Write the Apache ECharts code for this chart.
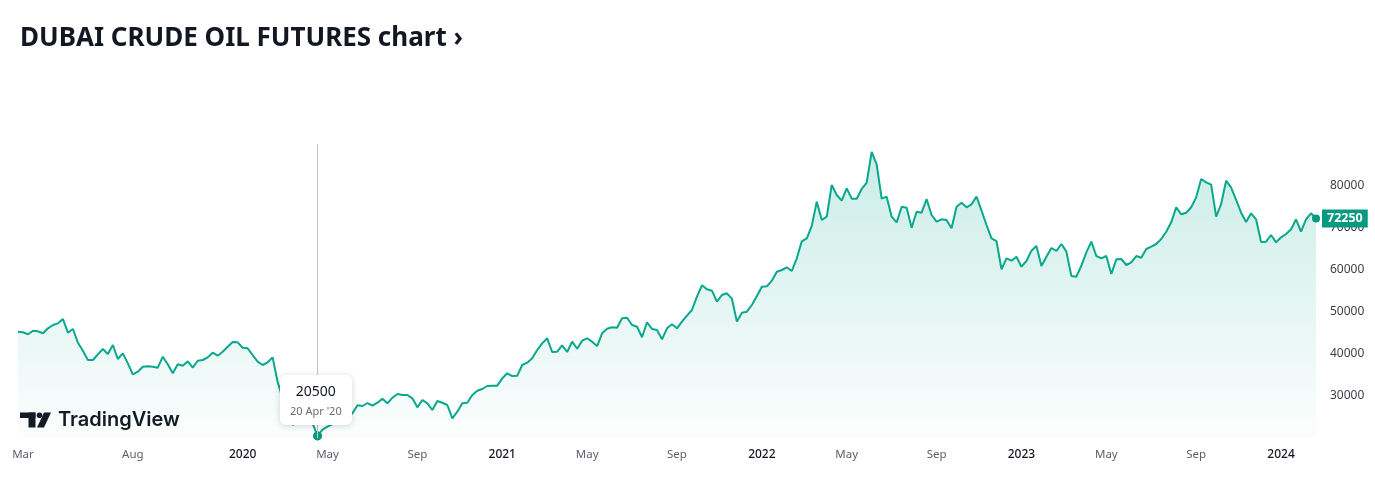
<!DOCTYPE html>
<html><head><meta charset="utf-8">
<script src="https://cdn.jsdelivr.net/npm/echarts@6/dist/echarts.min.js"></script>
<style>html,body{margin:0;padding:0;background:#fff;}#c{width:1375px;height:477px;}</style>
</head><body><div id="c"></div>
<script>
const chartTitle = 'DUBAI CRUDE OIL FUTURES chart \u203A';
const firstWeek = '2019-02-25';
const values = [
45300,45170,44700,45550,45400,44930,46120,46900,47300,48330,
45070,45950,42700,40790,38570,38570,39920,41190,40000,42140,
38810,40160,37780,35160,35780,36970,37070,36970,36740,39360,
37550,35400,37550,37210,38260,36740,38400,38570,39200,40310,
39600,40550,41740,42860,42780,41500,41360,39760,38170,37380,
38020,39200,33400,29500,26500,23100,24000,25500,26000,23500,
20500,22000,22700,23300,23900,24500,25200,25870,27780,27620,
28330,27700,28400,29350,28250,29600,30480,30240,30240,29450,
27300,29050,28250,26670,28810,28400,27860,24690,26260,28250,
28400,30240,31260,31670,32380,32460,32460,34210,35400,34760,
34830,37380,37930,38970,40950,42540,43740,40480,40550,42060,
40480,42930,41260,43170,43740,42930,41900,44930,46030,46360,
46260,48500,48640,46900,46500,43980,47550,45950,45710,43500,
46120,47070,46120,47710,49120,50480,53650,56350,55400,55080,
52460,54050,54450,53170,47710,49830,50080,51670,53810,56030,
56110,57450,59600,60000,60640,59760,62780,66830,67540,70480,
76270,71900,72690,80240,77860,76500,79440,76980,76980,79290,
80790,88100,85160,76980,77460,72690,71350,75070,74830,70070,
73880,73640,76900,73100,71500,72070,71900,69920,75070,76030,
74930,75640,77460,74120,70710,67540,66900,60170,62780,62220,
63170,60790,62140,64600,65710,60950,63170,65240,64530,66190,
64370,58570,58410,61020,64210,66740,63330,62780,63330,59050,
62540,62620,61190,61830,63330,62930,65000,65560,66190,67380,
69120,71350,74930,73260,73640,74930,77300,81670,80870,80310,
72690,75710,81270,79600,76670,73640,71430,73500,72070,66670,
66740,68330,66590,67780,68570,69680,72070,69120,72070,73500,
72250];
const tickDates = ['2019-03-04','2019-08-05','2020-01-06','2020-05-04','2020-09-07','2021-01-04','2021-05-03','2021-09-06','2022-01-03','2022-05-02','2022-09-05','2023-01-02','2023-05-01','2023-09-04','2024-01-01'];
const tickLabels = ['Mar','Aug','2020','May','Sep','2021','May','Sep','2022','May','Sep','2023','May','Sep','2024'];
const MONTHS = ['Jan','Feb','Mar','Apr','May','Jun','Jul','Aug','Sep','Oct','Nov','Dec'];

const t0 = Date.parse(firstWeek + 'T00:00:00Z');
const categories = values.map((_, i) => new Date(t0 + i * 7 * 864e5).toISOString().slice(0, 10));
const minIdx = values.indexOf(Math.min(...values));
const lastIdx = values.length - 1;
function fmtDate(s) { const p = s.split('-'); return (+p[2]) + ' ' + MONTHS[+p[1] - 1] + " '" + p[0].slice(2); }

const chart = echarts.init(document.getElementById('c'));
const ink = '#131722';
const option = {
  animation: false,
  title: { text: chartTitle, left: 15, top: 21,
    textStyle: { fontFamily: 'Noto Sans', fontWeight: 'bold', fontSize: 26, color: ink } },
  grid: { left: 18, right: 59, top: 144, bottom: 39 },
  xAxis: {
    type: 'category', data: categories, boundaryGap: false,
    axisLine: { show: false }, axisTick: { show: false }, splitLine: { show: false },
    axisLabel: {
      interval: (i, v) => tickDates.indexOf(v) >= 0,
      margin: 11,
      formatter: v => { const t = tickLabels[tickDates.indexOf(v)]; return /^\d{4}$/.test(t) ? '{y|' + t + '}' : '{m|' + t + '}'; },
      rich: {
        y: { fontFamily: 'Noto Sans', fontSize: 12, fontWeight: 500, color: ink },
        m: { fontFamily: 'Noto Sans', fontSize: 11.5, color: '#5d606b' }
      }
    }
  },
  yAxis: {
    type: 'value', position: 'right', min: 20000, max: 90000, interval: 10000,
    axisLine: { show: false }, axisTick: { show: false }, splitLine: { show: false },
    axisLabel: { showMinLabel: false, showMaxLabel: false, margin: 14, formatter: v => String(v),
      fontFamily: 'Noto Sans', fontSize: 12, color: '#3c3f47' }
  },
  tooltip: {
    trigger: 'axis', triggerOn: 'none', alwaysShowContent: true, transitionDuration: 0,
    backgroundColor: '#ffffff', borderWidth: 0, borderRadius: 6, padding: [6, 10],
    extraCssText: 'box-shadow:0 1px 6px rgba(0,0,0,0.16);',
    axisPointer: { type: 'line', lineStyle: { color: '#c3c5cb', width: 1, type: 'solid' }, label: { show: false } },
    formatter: ps => {
      const p = ps[0];
      return '<div style="text-align:center;font-family:Noto Sans;">' +
        '<div style="font-size:14px;line-height:20px;color:' + ink + ';">' + p.value + '</div>' +
        '<div style="font-size:11px;line-height:16px;color:#6a6d78;margin-top:2px;">' + fmtDate(p.name) + '</div></div>';
    },
    position: (point, params, dom, rect, size) => {
      const px = chart.convertToPixel({ seriesIndex: 0 }, [minIdx, values[minIdx]]);
      return [px[0] - size.contentSize[0] / 2 - 2, px[1] - 61];
    }
  },
  series: [{
    type: 'line', data: values, showSymbol: false, symbol: 'circle', symbolSize: 8,
    lineStyle: { color: '#089981', width: 2 },
    itemStyle: { color: '#089981' },
    areaStyle: { color: new echarts.graphic.LinearGradient(0, 0, 0, 1, [
      { offset: 0, color: 'rgba(8,153,129,0.3)' },
      { offset: 1, color: 'rgba(8,153,129,0.02)' }]) },
    markPoint: {
      silent: true,
      data: [
        { type: 'min', symbol: 'circle', symbolSize: 9, itemStyle: { color: '#089981' }, label: { show: false } },
        { coord: [lastIdx, values[lastIdx]], symbol: 'circle', symbolSize: 8, itemStyle: { color: '#089981' },
          label: { show: true, position: 'right', distance: 2, formatter: String(values[lastIdx]),
            backgroundColor: '#089981', color: '#ffffff', fontFamily: 'Noto Sans', fontSize: 12.5, fontWeight: 'bold',
            padding: [2, 5, 2, 5], lineHeight: 14 } }
      ]
    }
  }],
  graphic: [
    { type: 'rect', shape: { x: 20, y: 412.5, width: 15.5, height: 5.5 }, style: { fill: ink } },
    { type: 'rect', shape: { x: 28.5, y: 412.5, width: 7, height: 15 }, style: { fill: ink } },
    { type: 'circle', shape: { cx: 39.5, cy: 415.3, r: 2.8 }, style: { fill: ink } },
    { type: 'polygon', shape: { points: [[44, 412.5], [51, 412.5], [44, 427.5], [37, 427.5]] }, style: { fill: ink } },
    { type: 'text', x: 58, y: 420, style: { text: 'TradingView', font: '600 20px Inter', fill: ink, verticalAlign: 'middle' } }
  ]
};
chart.setOption(option);
chart.dispatchAction({ type: 'showTip', seriesIndex: 0, dataIndex: minIdx });
</script></body></html>
